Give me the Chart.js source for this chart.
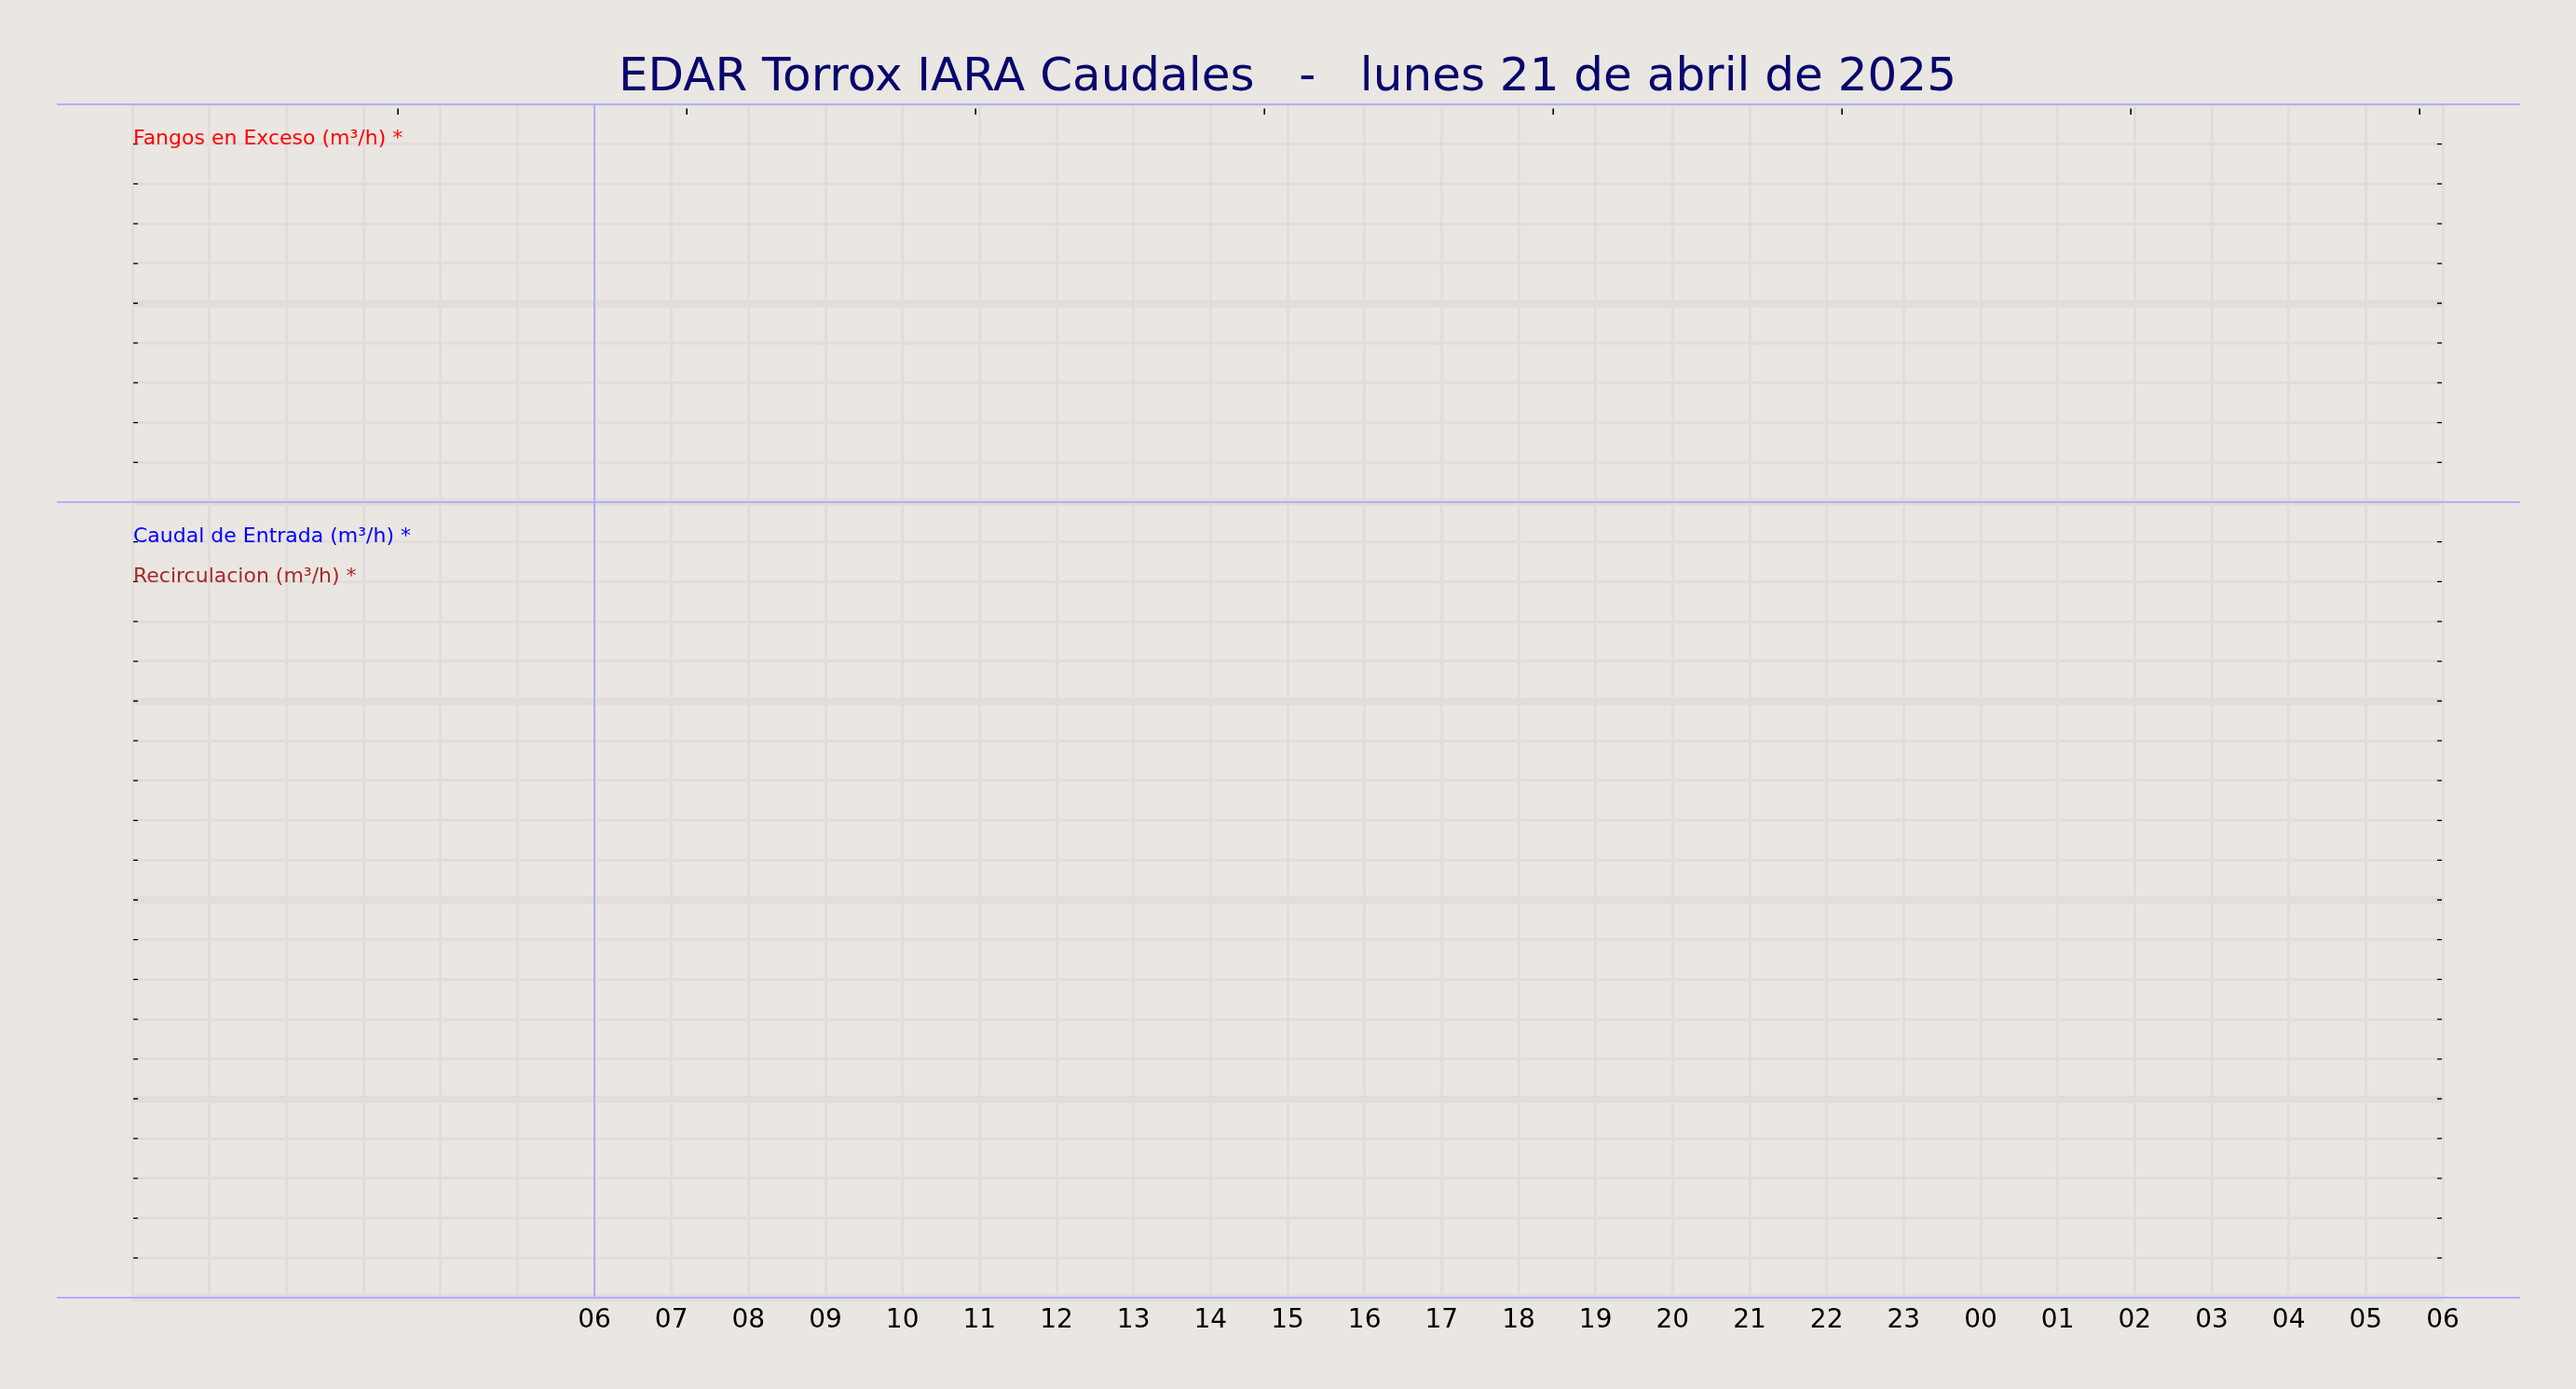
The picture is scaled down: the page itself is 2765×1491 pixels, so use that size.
<!DOCTYPE html>
<html>
<head>
<meta charset="utf-8">
<title>EDAR Torrox IARA Caudales</title>
<script src="https://cdn.jsdelivr.net/npm/chart.js@4.4.1/dist/chart.umd.min.js"></script>
<style>
  html, body { margin: 0; padding: 0; background: #eae6e1; overflow: hidden; }
  canvas { display: block; }
</style>
</head>
<body>
<canvas id="caudalesChart" width="2765" height="1491"></canvas>
<script>
// hours counted from 00:00 of the day; labels only start at 06
var hourLabels = ['', '', '', '', '', '', '06', '07', '08', '09', '10', '11', '12', '13', '14', '15',
  '16', '17', '18', '19', '20', '21', '22', '23', '00', '01', '02', '03', '04', '05', '06'];
var dayStartHour = 6;
var topTickValues = [0, 1, 2, 3, 4, 5, 6, 7];

// no readings drawn on this day
var fangosEnExceso = [];
var caudalEntrada = [];
var recirculacion = [];

var seriesLabels = ['Fangos en Exceso (m\u00b3/h) *', 'Caudal de Entrada (m\u00b3/h) *', 'Recirculacion (m\u00b3/h) *'];

var gridColor = '#e2dddb';
var frameColor = '#b0b0f8';

var panelDecor = {
    id: 'panelDecor',
    afterDraw: function(chart) {
        var c = chart.ctx, a = chart.chartArea;
        var xs = chart.scales.x, xTop = chart.scales.xTop;
        c.save();

        // small inward tick marks on both sides
        c.strokeStyle = '#000';
        c.lineWidth = 1.3;
        ['yF', 'yC'].forEach(function(id) {
            var s = chart.scales[id];
            s.ticks.forEach(function(t) {
                var py = s.getPixelForValue(t.value);
                if (py <= a.top + 1) return;
                c.beginPath();
                c.moveTo(a.left + 1, py); c.lineTo(a.left + 6, py);
                c.moveTo(a.right - 6, py); c.lineTo(a.right - 1, py);
                c.stroke();
            });
        });
        c.lineWidth = 1.6;
        xTop.ticks.forEach(function(t) {
            var px = xTop.getPixelForValue(t.value);
            c.beginPath();
            c.moveTo(px, a.top + 4.5); c.lineTo(px, a.top + 11);
            c.stroke();
        });

        // series names in the top-left corner of each panel
        c.font = '22px "DejaVu Sans"';
        c.textBaseline = 'alphabetic';
        c.textAlign = 'left';
        var count = {};
        chart.data.datasets.forEach(function(ds) {
            var s = chart.scales[ds.yAxisID];
            var n = count[ds.yAxisID] || 0;
            count[ds.yAxisID] = n + 1;
            c.fillStyle = ds.borderColor;
            c.fillText(ds.label, a.left + 1, s.top + 43 + n * 43);
        });

        // blue frame lines
        c.strokeStyle = frameColor;
        c.lineWidth = 2;
        [a.top, chart.scales.yF.bottom, a.bottom].forEach(function(py) {
            c.beginPath();
            c.moveTo(a.left - 81, py); c.lineTo(a.right + 83, py);
            c.stroke();
        });
        var vx = xs.getPixelForValue(dayStartHour);
        c.beginPath();
        c.moveTo(vx, a.top); c.lineTo(vx, a.bottom);
        c.stroke();
        c.restore();
    }
};

function panelGrid(ctx) {
    var v = ctx.tick ? ctx.tick.value : 0;
    if (ctx.scale.id === 'yF' && v === ctx.scale.max) return 3;
    return v % 5 === 0 ? 8 : 3;
}

var ctx = document.getElementById('caudalesChart').getContext('2d');
var caudalesChart = new Chart(ctx, {
    type: 'line',
    data: {
        datasets: [{
            label: seriesLabels[0],
            data: fangosEnExceso,
            borderColor: '#ff0000',
            yAxisID: 'yF',
            xAxisID: 'x'
        }, {
            label: seriesLabels[1],
            data: caudalEntrada,
            borderColor: '#0000ff',
            yAxisID: 'yC',
            xAxisID: 'x'
        }, {
            label: seriesLabels[2],
            data: recirculacion,
            borderColor: '#a52a2a',
            yAxisID: 'yC',
            xAxisID: 'x'
        }]
    },
    options: {
        responsive: false,
        animation: false,
        devicePixelRatio: 1,
        layout: { padding: { left: 142, right: 143, top: 0, bottom: 0 } },
        plugins: {
            legend: { display: false },
            tooltip: { enabled: false },
            title: {
                display: true,
                text: 'EDAR Torrox IARA Caudales   -   lunes 21 de abril de 2025',
                color: '#06066c',
                font: { family: 'DejaVu Sans', size: 50, weight: 'normal', lineHeight: 1.14 },
                padding: { top: 56, bottom: -1 }
            }
        },
        scales: {
            x: {
                type: 'linear',
                position: 'bottom',
                min: 0,
                max: 30,
                border: { display: false },
                grid: { color: gridColor, lineWidth: 3, drawTicks: false },
                ticks: {
                    stepSize: 1,
                    autoSkip: false,
                    maxRotation: 0,
                    padding: 8,
                    color: '#000',
                    font: { family: 'DejaVu Sans', size: 28 },
                    callback: function(value) { return hourLabels[value]; }
                },
                afterFit: function(s) { s.height = 98; }
            },
            xTop: {
                type: 'linear',
                position: 'top',
                min: -0.92,
                max: 7.08,
                border: { display: false },
                grid: { display: false, drawTicks: false },
                ticks: { display: false },
                afterBuildTicks: function(s) {
                    s.ticks = topTickValues.map(function(v) { return { value: v }; });
                }
            },
            yF: {
                type: 'linear',
                position: 'right',
                stack: 'panels',
                stackWeight: 1,
                min: 0,
                max: 10,
                border: { display: false },
                grid: { color: gridColor, lineWidth: panelGrid, drawTicks: false },
                ticks: { display: false, stepSize: 1 }
            },
            yC: {
                type: 'linear',
                position: 'right',
                stack: 'panels',
                stackWeight: 2,
                min: 0,
                max: 20,
                border: { display: false },
                grid: { color: gridColor, lineWidth: panelGrid, drawTicks: false },
                ticks: { display: false, stepSize: 1 }
            }
        }
    },
    plugins: [panelDecor]
});
</script>
</body>
</html>
